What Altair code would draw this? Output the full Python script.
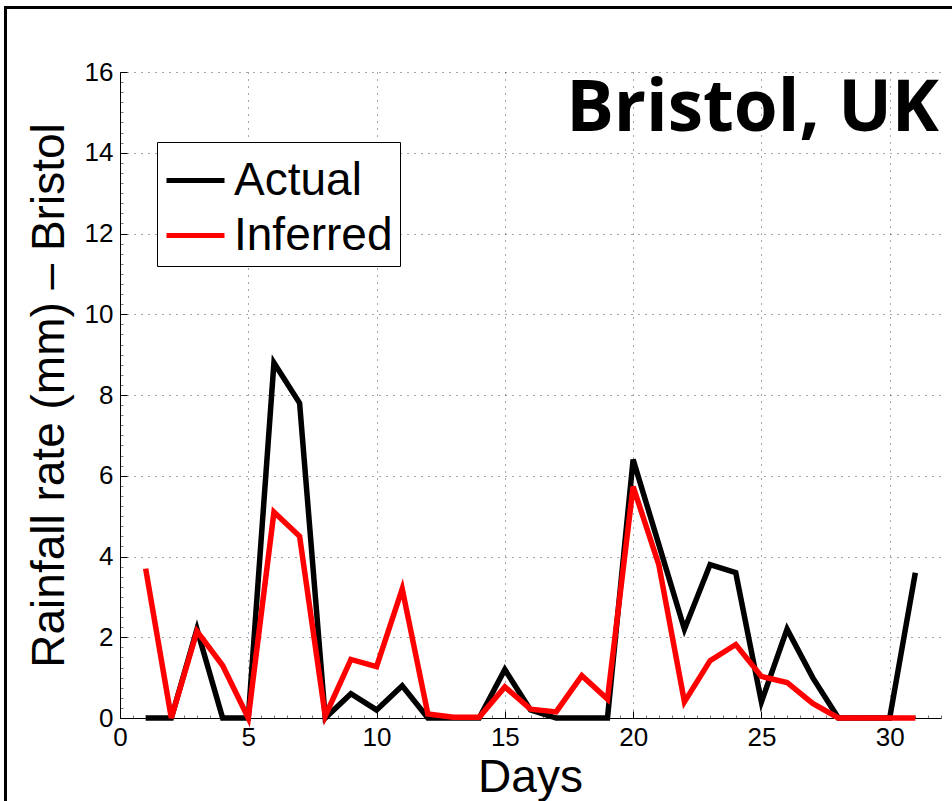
import altair as alt
import pandas as pd

days = list(range(1, 32))
actual = [0, 0, 2.2, 0, 0, 8.8, 7.8, 0, 0.6, 0.2, 0.8, 0, 0, 0, 1.2, 0.2, 0, 0, 0,
          6.4, 4.3, 2.2, 3.8, 3.6, 0.4, 2.2, 1.0, 0, 0, 0, 3.6]
inferred = [3.7, 0, 2.15, 1.3, 0, 5.1, 4.5, 0.05, 1.45, 1.27, 3.2, 0.1, 0.02, 0.02, 0.77,
            0.22, 0.15, 1.05, 0.47, 5.73, 3.8, 0.4, 1.42, 1.82, 1.03, 0.88, 0.36, 0, 0, 0, 0]
series_names = ["Actual", "Inferred"]
series_colors = ["#000000", "#ff0000"]
x_ticks = [0, 5, 10, 15, 20, 25, 30]
y_ticks = [0, 2, 4, 6, 8, 10, 12, 14, 16]
x_minor = [i * 0.5 for i in range(0, 65)]
y_minor = [i * 0.25 for i in range(0, 65)]
title_text = "Bristol, UK"
x_title = "Days"
y_title = "Rainfall rate (mm) \u2013 Bristol"

W, H = 821, 646

rows = []
for name, vals in zip(series_names, [actual, inferred]):
    for d, v in zip(days, vals):
        rows.append({"day": d, "rain": v, "series": name})
df = pd.DataFrame(rows)

xs = alt.Scale(domain=[0, 32], nice=False, zero=False)
ys = alt.Scale(domain=[0, 16], nice=False)
FONT = "Liberation Sans"

lines = alt.Chart(df).mark_line(strokeWidth=5.5, strokeJoin="miter").encode(
    x=alt.X("day:Q", scale=xs, axis=alt.Axis(
        values=x_ticks, title=x_title, ticks=False, labelPadding=6, labelFlush=False,
        labelFont=FONT, labelFontSize=26, labelColor="black",
        titleFont=FONT, titleFontSize=46, titleFontWeight="normal", titleColor="black",
        titleX=410, titleY=73, titleBaseline="alphabetic", titleAnchor="start", titleAlign="center",
        domainColor="black", domainWidth=1,
        grid=True, gridColor="#222222", gridDash=[1, 6], gridWidth=1, gridOpacity=0.8)),
    y=alt.Y("rain:Q", scale=ys, axis=alt.Axis(
        values=y_ticks, title=y_title, ticks=False, labelPadding=7, labelFlush=False,
        labelFont=FONT, labelFontSize=26, labelColor="black",
        titleFont=FONT, titleFontSize=46, titleFontWeight="normal", titleColor="black",
        titleAngle=270, titleX=-57, titleY=H / 2, titleBaseline="alphabetic", titleAlign="center",
        domainColor="black", domainWidth=1,
        grid=True, gridColor="#222222", gridDash=[1, 6], gridWidth=1, gridOpacity=0.8)),
    color=alt.Color("series:N", scale=alt.Scale(domain=series_names, range=series_colors),
                    legend=alt.Legend(title=None, orient="none", legendX=37, legendY=70,
                                      symbolType="stroke", symbolStrokeWidth=5, symbolSize=3364,
                                      labelFont=FONT, labelFontSize=46, labelColor="black",
                                      labelLimit=400, labelOffset=7, rowPadding=0, padding=7,
                                      strokeColor="black", fillColor="white")),
    order=alt.Order("series:N"),
)

major = alt.Chart(df).mark_point(opacity=0).encode(
    x=alt.X("day:Q", scale=xs, axis=alt.Axis(
        orient="top", offset=-H, values=x_ticks, labels=False, title=None, domain=False,
        grid=False, tickSize=7, tickColor="black", tickWidth=1)),
    y=alt.Y("rain:Q", scale=ys, axis=alt.Axis(
        orient="right", offset=-W, values=y_ticks, labels=False, title=None, domain=False,
        grid=False, tickSize=7, tickColor="black", tickWidth=1)),
)

minor = alt.Chart(df).mark_point(opacity=0).encode(
    x=alt.X("day:Q", scale=xs, axis=alt.Axis(
        orient="top", offset=-H, values=x_minor, labels=False, title=None, domain=False,
        grid=False, tickSize=3, tickColor="#777777", tickWidth=1)),
    y=alt.Y("rain:Q", scale=ys, axis=alt.Axis(
        orient="right", offset=-W, values=y_minor, labels=False, title=None, domain=False,
        grid=False, tickSize=3, tickColor="#777777", tickWidth=1)),
)

frame = alt.Chart(pd.DataFrame({"k": [0]})).mark_rect(
    fill=None, stroke="black", strokeWidth=3, fillOpacity=0).encode(
    x=alt.value(-114.5), x2=alt.value(W + 200), y=alt.value(-64.5), y2=alt.value(H + 200))

title = alt.Chart(pd.DataFrame({"t": [title_text]})).mark_text(
    font="Open Sans", fontWeight="bold", fontSize=71,
    align="right", baseline="alphabetic", color="black").encode(
    text="t:N", x=alt.value(W - 2), y=alt.value(59))

chart = alt.layer(frame, minor, major, lines, title).resolve_axis(
    x="independent", y="independent").properties(
    width=W, height=H,
    autosize=alt.AutoSizeParams(type="none"),
    padding={"left": 120, "top": 72, "right": 11, "bottom": 83},
    background="white",
).configure_view(stroke=None)

chart.save("out.html", embed_options={"renderer": "svg", "actions": False})
